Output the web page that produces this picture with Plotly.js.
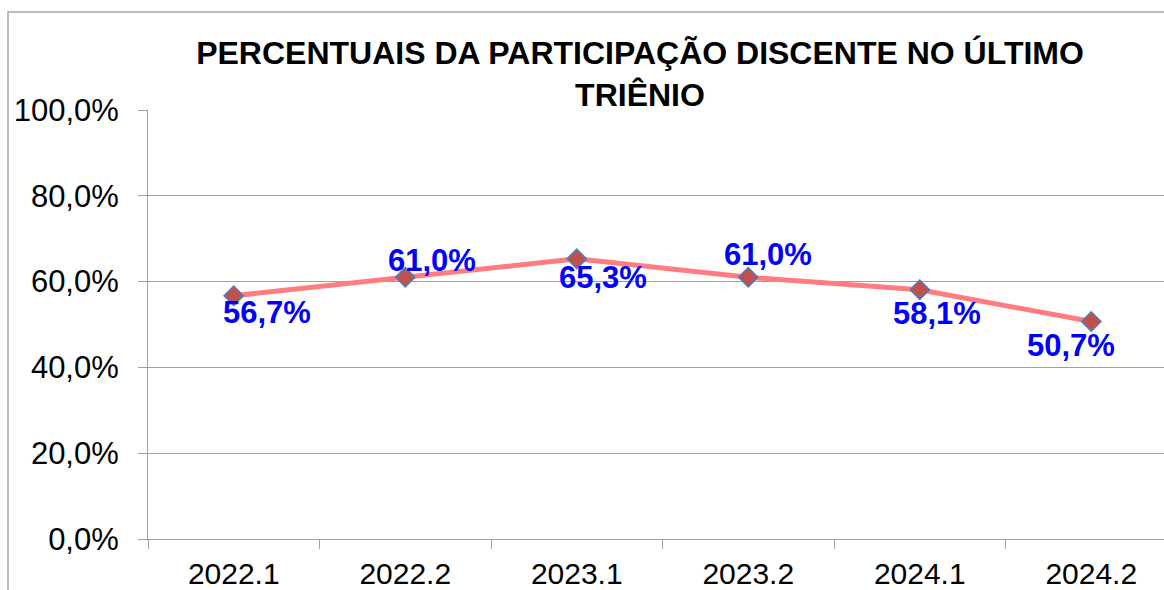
<!DOCTYPE html>
<html>
<head>
<meta charset="utf-8">
<script src="https://cdn.plot.ly/plotly-3.0.1.min.js"></script>
<style>
html,body{margin:0;padding:0;overflow:hidden;background:#fff;}
#chart{width:1200px;height:590px;}
</style>
</head>
<body>
<div id="chart"></div>
<script>
// Data
const categories = ["2022.1", "2022.2", "2023.1", "2023.2", "2024.1", "2024.2"];
const participation = [0.567, 0.610, 0.653, 0.610, 0.581, 0.507];
const chartTitle = "PERCENTUAIS DA PARTICIPAÇÃO DISCENTE NO ÚLTIMO<br>TRIÊNIO";
const yTickValues = [0, 0.2, 0.4, 0.6, 0.8, 1.0];

// Label placement (style only, screen pixels)
const labelXShift = [33, 27, 26, 20, 17, -20];
const labelYShift = [-17, 17, -19, 23, -24, -24];

const W = 1200, H = 590;
const mL = 148, mR = W - 1177, mT = 110, mB = H - 539;
const pw = W - mL - mR, ph = H - mT - mB;
const px = v => (v - mL) / pw;
const py = v => (H - mB - v) / ph;

const fmt = v => (v * 100).toFixed(1).replace('.', ',') + '%';

const trace = {
  type: 'scatter',
  mode: 'lines+markers',
  x: categories,
  y: participation,
  line: {color: '#FF7C80', width: 5},
  marker: {symbol: 'diamond', size: 15, color: '#C0504D', line: {color: '#4F81BD', width: 1.5}},
  hoverinfo: 'skip'
};

const annotations = participation.map((v, i) => ({
  x: i, y: v, xref: 'x', yref: 'y',
  text: '<b>' + fmt(v) + '</b>',
  showarrow: false,
  xanchor: 'center', yanchor: 'middle',
  xshift: labelXShift[i], yshift: labelYShift[i],
  font: {family: 'Liberation Sans, Arial, sans-serif', size: 31, color: '#0000FF'}
}));

const layout = {
  width: W, height: H,
  margin: {l: mL, r: mR, t: mT, b: mB, pad: 0},
  paper_bgcolor: '#FFFFFF',
  plot_bgcolor: '#FFFFFF',
  separators: ',.',
  showlegend: false,
  font: {family: 'Liberation Sans, Arial, sans-serif', color: '#000000'},
  title: {
    text: '<b>' + chartTitle + '</b>',
    font: {family: 'Liberation Sans, Arial, sans-serif', size: 32, color: '#000000'},
    xref: 'container', yref: 'container',
    x: 640 / W, xanchor: 'center',
    y: 1 - 64 / H, yanchor: 'top'
  },
  xaxis: {
    type: 'category',
    range: [-0.5, 5.5],
    showgrid: false,
    showline: true, linecolor: '#A0A0A0', linewidth: 1,
    ticks: 'outside', tickson: 'boundaries', ticklen: 9, tickcolor: '#A0A0A0', tickwidth: 1,
    tickfont: {size: 30, color: '#000000'},
    ticklabelstandoff: 8,
    zeroline: false, fixedrange: true
  },
  yaxis: {
    range: [0, 1],
    tickvals: yTickValues,
    tickformat: '.1%',
    showgrid: true, gridcolor: '#A0A0A0', gridwidth: 1,
    showline: true, linecolor: '#A0A0A0', linewidth: 1,
    ticks: 'outside', ticklen: 9, tickcolor: '#A0A0A0', tickwidth: 1,
    tickfont: {size: 31, color: '#000000'},
    ticklabelstandoff: 13,
    zeroline: false, fixedrange: true
  },
  shapes: [{
    type: 'rect', xref: 'paper', yref: 'paper', layer: 'below',
    x0: px(8), x1: px(1195), y0: py(600), y1: py(12),
    line: {color: '#A6A6A6', width: 1.5}, fillcolor: 'rgba(0,0,0,0)'
  }],
  annotations: annotations
};

Plotly.newPlot('chart', [trace], layout, {displayModeBar: false});
</script>
</body>
</html>
